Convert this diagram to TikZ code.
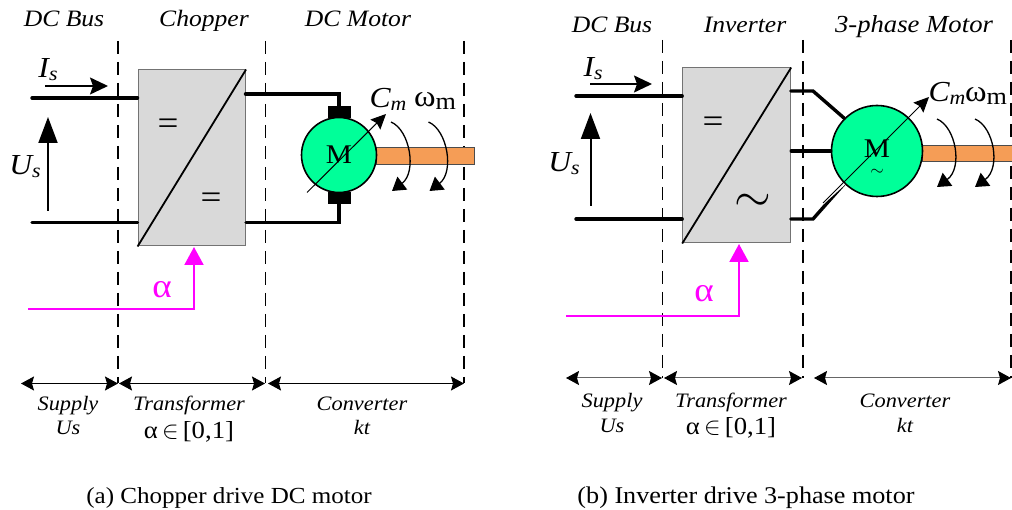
\documentclass[tikz,border=0pt]{standalone}
\usepackage{amsmath}
\usepackage{fontspec}
\usepackage{xcolor}
\usetikzlibrary{arrows.meta}
\setmainfont[FakeStretch=1.09]{Liberation Serif}
\definecolor{boxgray}{HTML}{D9D9D9}
\definecolor{motorgreen}{HTML}{00FF99}
\definecolor{shaftorange}{HTML}{F59D56}
\definecolor{ctrlpink}{HTML}{FF00FF}
\newcommand{\lowtxt}[1]{\raisebox{-3pt}{\fontsize{20}{20}\selectfont #1}}
\tikzset{
  wire/.style={line width=3.4pt, line cap=round},
  border/.style={line width=1.5pt, dash pattern=on 13pt off 8pt},
  convbox/.style={rectangle, fill=boxgray, draw=black!55, line width=1pt, inner sep=0pt},
  motor/.style={circle, fill=motorgreen, draw=black, line width=1.6pt, inner sep=0pt},
  shaft/.style={rectangle, fill=shaftorange, draw=black!70, line width=0.6pt, inner sep=0pt},
  brush/.style={rectangle, fill=black, minimum width=23pt, minimum height=12pt, inner sep=0pt},
  signal/.style={line width=1.6pt, -{Stealth[length=18pt, width=17pt, inset=3pt]}},
  voltage/.style={line width=2pt, -{Triangle[length=26pt, width=19pt]}},
  control/.style={draw=ctrlpink, line width=2pt, -{Triangle[length=18pt, width=19pt]}},
  span/.style={line width=1pt, {Stealth[length=13pt, width=14pt, inset=2pt, color=black]}-{Stealth[length=13pt, width=14pt, inset=2pt, color=black]}},
  turn/.style={line width=1.3pt, -{Triangle[length=13pt, width=16pt]}},
  flux/.style={line width=1pt, -{Stealth[length=15pt, width=14pt, inset=2pt]}},
  title/.style={font=\fontsize{23.5}{23.5}\selectfont\itshape, inner sep=0pt, anchor=base},
  quantity/.style={font=\fontsize{29}{29}\selectfont\itshape, inner sep=0pt, anchor=base},
  note/.style={font=\fontsize{20.5}{20.5}\selectfont\itshape, inner sep=0pt, anchor=base},
  ratio/.style={font=\fontsize{24.5}{24.5}\selectfont, inner sep=0pt, anchor=base},
  caption/.style={font=\fontsize{23}{23}\selectfont, inner sep=0pt, anchor=base},
  omega/.style={font=\fontsize{30}{30}\selectfont, inner sep=0pt, anchor=base},
  alphalabel/.style={font=\fontsize{34}{34}\selectfont, text=ctrlpink, inner sep=0pt, anchor=base},
  equal/.style={font=\fontsize{34}{34}\selectfont, inner sep=0pt}
}
\begin{document}
\begin{tikzpicture}[x=1pt, y=-1pt]
\useasboundingbox (0,0) rectangle (1012,510);

% left panel
\coordinate (a1t) at (118,41); \coordinate (a1b) at (118,383);
\coordinate (a2t) at (265.5,41); \coordinate (a2b) at (265.5,383);
\coordinate (a3t) at (464,41); \coordinate (a3b) at (464,383);
\draw[border] (a1t) -- (a1b);
\draw[border] (a2t) -- (a2b);
\draw[border] (a3t) -- (a3b);

\node[shaft, minimum width=98pt, minimum height=16.5pt] (ashaft) at (425.5,156) {};
\node[convbox, minimum width=107.5pt, minimum height=176pt] (chopper) at (191.8,158) {};
\draw[line width=1.8pt] (chopper.south west) -- (chopper.north east);
\node[brush] (abrusht) at (339,112) {};
\node[brush] (abrushb) at (339,198) {};
\node[motor, minimum size=75pt] (amotor) at (339,155) {\fontsize{27}{27}\selectfont M};

\coordinate (as1) at (32,98); \coordinate (as2) at (32,222.5);
\coordinate (ach1) at (chopper.west |- as1); \coordinate (ach2) at (chopper.west |- as2);
\coordinate (aout1) at (245.5,94); \coordinate (aout2) at (chopper.east |- as2);
\draw[wire] (as1) -- (ach1);
\draw[wire] (as2) -- (ach2);
\draw[wire] (aout1) -| (abrusht.north);
\draw[wire] (aout2) -| (abrushb.south);

\coordinate (ai1) at (45,86); \coordinate (ai2) at (108,86);
\coordinate (au1) at (48,211); \coordinate (au2) at (48,117);
\draw[signal] (ai1) -- (ai2);
\draw[voltage] (au1) -- (au2);
\coordinate (af1) at (307,192.5); \coordinate (af2) at (386,114);
\draw[flux] (af1) -- (af2);
\draw[turn] (391,122) .. controls (410,130) and (417,172) .. (392,191);
\draw[turn] (428.5,122) .. controls (447.5,130) and (454.5,172) .. (429.5,191);

\coordinate (act1) at (28,309); \coordinate (act2) at (194,247);
\draw[control] (act1) -| (act2);

\node[title] (abus) at (64,27) {DC Bus};
\node[title] (achop) at (204,27) {Chopper};
\node[title] (amot) at (358,27) {DC Motor};
\node[quantity] (ais) at (48,78) {I\lowtxt{s}};
\node[quantity] (aus) at (25,175) {U\lowtxt{s}};
\node[quantity] (acm) at (388,108) {C\lowtxt{m}};
\node[omega] (awm) at (435,107) {ω\lowtxt{\fontsize{24}{24}\selectfont m}};
\node[alphalabel] (aalpha) at (162,298) {α};
\node[equal] (aeq1) at (168,127) {=};
\node[equal] (aeq2) at (211,201) {=};

\coordinate (ad0) at (21,383.5); \coordinate (ad1) at (118,383.5);
\coordinate (ad2) at (119,383.5); \coordinate (ad3) at (265,383.5);
\coordinate (ad4) at (268,383.5); \coordinate (ad5) at (464,383.5);
\draw[span] (ad0) -- (ad1);
\draw[span] (ad2) -- (ad3);
\draw[span] (ad4) -- (ad5);
\node[note] (asup) at (68,410) {Supply};
\node[note] (asu2) at (68,435) {Us};
\node[note] (atra) at (189,410) {Transformer};
\node[ratio] (atr2) at (189,438) {α$\,\in\,$[0,1]};
\node[note] (acon) at (362,410) {Converter};
\node[note] (acn2) at (362,435) {kt};
\node[caption] (acap) at (229,503) {(a) Chopper drive DC motor};

% right panel
\coordinate (b1t) at (662.7,40); \coordinate (b1b) at (662.7,378);
\coordinate (b2t) at (803,40); \coordinate (b2b) at (803,378);
\coordinate (b3t) at (1011,40); \coordinate (b3b) at (1011,378);
\draw[border] (b1t) -- (b1b);
\draw[border] (b2t) -- (b2b);
\draw[border] (b3t) -- (b3b);

\node[shaft, minimum width=92pt, minimum height=15.5pt] (bshaft) at (968,153.5) {};
\node[convbox, minimum width=108pt, minimum height=175pt] (inverter) at (736.7,155.5) {};
\draw[line width=1.8pt] (inverter.south west) -- (inverter.north east);

\coordinate (bs1) at (576,96); \coordinate (bs2) at (576,219);
\coordinate (bin1) at (inverter.west |- bs1); \coordinate (bin2) at (inverter.west |- bs2);
\draw[wire] (bs1) -- (bin1);
\draw[wire] (bs2) -- (bin2);
\node[motor, minimum size=91pt] (bmotor) at (877,151) {};
\node[inner sep=0pt, font=\fontsize{27}{27}\selectfont] (bm) at (877,149) {M};
\node[inner sep=0pt, font=\fontsize{14}{14}\selectfont, scale=1.2] (btilde) at (877,172) {$\sim$};

\coordinate (bk1) at (813,91); \coordinate (bk3) at (813,219);
\coordinate (bout1) at (790.7,91); \coordinate (bout3) at (790.7,219);
\draw[wire] (bout1) -- (bk1) -- (bmotor.135);
\draw[wire] (inverter.east |- bmotor) -- (bmotor.west);
\draw[wire] (bout3) -- (bk3) -- (bmotor.225);

\coordinate (bi1) at (590,84); \coordinate (bi2) at (652,84);
\coordinate (bu1) at (590.5,206); \coordinate (bu2) at (590.5,113);
\draw[signal] (bi1) -- (bi2);
\draw[voltage] (bu1) -- (bu2);
\coordinate (bf1) at (823,203); \coordinate (bf2) at (929,97);
\draw[white, line width=2.5pt] (bf1) -- (bmotor.225);
\draw[flux] (bf1) -- (bf2);
\draw[turn] (937,119) .. controls (956,127) and (963,168) .. (937,187);
\draw[turn] (975,119) .. controls (994,127) and (1001,168) .. (975,187);

\coordinate (bct1) at (566,316); \coordinate (bct2) at (739,244);
\draw[control] (bct1) -| (bct2);

\node[title] (bbus) at (612,33) {DC Bus};
\node[title] (binv) at (745,33) {Inverter};
\node[title, font=\fontsize{24.5}{24.5}\selectfont\itshape] (bmot) at (914,33) {3-phase Motor};
\node[quantity] (bis) at (593,77) {I\lowtxt{s}};
\node[quantity] (bus) at (564,172) {U\lowtxt{s}};
\node[quantity] (bcm) at (947,102) {C\lowtxt{m}};
\node[omega] (bwm) at (986,102) {ω\lowtxt{\fontsize{24}{24}\selectfont m}};
\node[alphalabel] (balpha) at (704,302) {α};
\node[equal] (beq) at (713,124.5) {=};
\node[inner sep=0pt, font=\fontsize{25}{25}\selectfont, scale=1.9] (bsim) at (753,203) {$\sim$};

\coordinate (bd0) at (566,378); \coordinate (bd1) at (662,378);
\coordinate (bd2) at (664,378); \coordinate (bd3) at (802,378);
\coordinate (bd4) at (814,378); \coordinate (bd5) at (1011,378);
\draw[span, draw=black!60] (bd0) -- (bd1);
\draw[span, draw=black!60] (bd2) -- (bd3);
\draw[span, draw=black!60] (bd4) -- (bd5);
\node[note] (bsup) at (612,407) {Supply};
\node[note] (bsu2) at (612,432) {Us};
\node[note] (btra) at (731,407) {Transformer};
\node[ratio] (btr2) at (731,435) {α$\,\in\,$[0,1]};
\node[note] (bcon) at (905,407) {Converter};
\node[note] (bcn2) at (905,432) {kt};
\node[caption, font=\fontsize{24}{24}\selectfont] (bcap) at (746,503) {(b) Inverter drive 3-phase motor};
\end{tikzpicture}
\end{document}
